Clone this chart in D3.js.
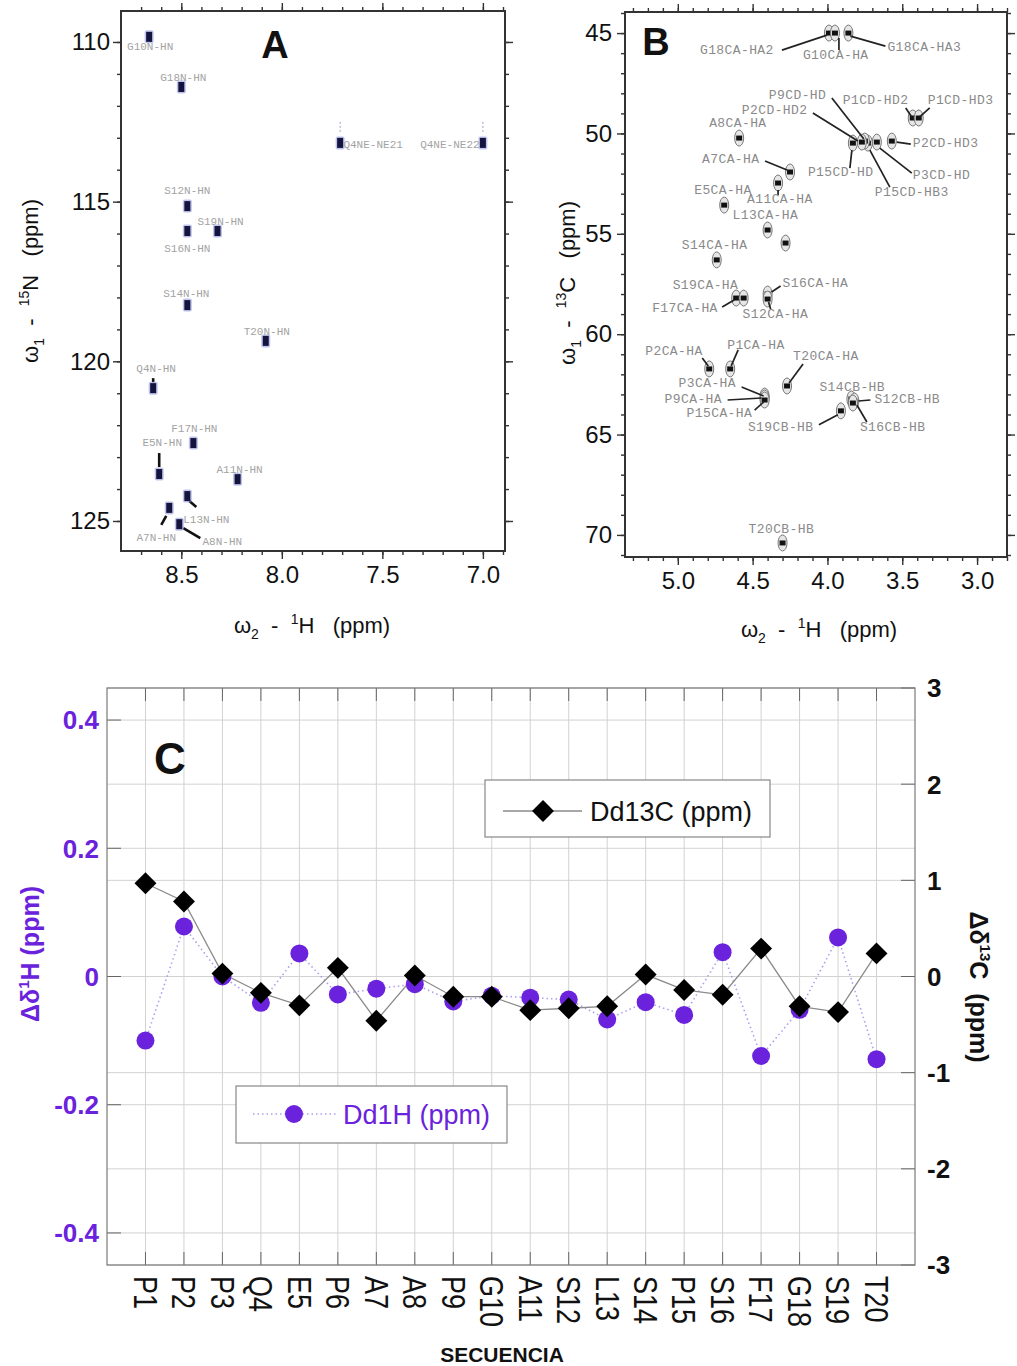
<!DOCTYPE html>
<html>
<head>
<meta charset="utf-8">
<script src="https://cdn.jsdelivr.net/npm/d3@7"></script>
<style>
  body { margin: 0; background: #fff; }
  svg { display: block; }
  text { font-family: "Liberation Sans", Arial, sans-serif; white-space: pre; }
  text.mono { font-family: "Liberation Mono", "DejaVu Sans Mono", monospace; }
</style>
</head>
<body>
<svg id="fig" width="1017" height="1366"></svg>
<script>
// ---- panel A : 1H-15N peaks (ppm) ----
const hnNames = ["G10N-HN","G18N-HN","Q4NE-NE21","Q4NE-NE22","S12N-HN","S16N-HN","S19N-HN","S14N-HN",
                 "T20N-HN","Q4N-HN","F17N-HN","E5N-HN","A11N-HN","L13N-HN","A7N-HN","A8N-HN"];
const hnH = [8.66, 8.50, 7.71, 7.00, 8.47, 8.47, 8.32, 8.47, 8.08, 8.64, 8.44, 8.61, 8.22, 8.47, 8.56, 8.51];
const hnN = [109.84, 111.41, 113.16, 113.16, 115.14, 115.92, 115.92, 118.24, 119.36, 120.84, 122.56, 123.53,
             123.69, 124.22, 124.59, 125.10];

// ---- panel B : 1H-13C peaks (ppm) ----
const chNames = ["G18CA-HA2","G10CA-HA","G18CA-HA3","P1CD-HD2","P1CD-HD3","P2CD-HD3","P3CD-HD","P15CD-HB3",
                 "P9CD-HD","P2CD-HD2","P15CD-HD","A8CA-HA","A7CA-HA","A11CA-HA","E5CA-HA","L13CA-HA","",
                 "S14CA-HA","F17CA-HA","S19CA-HA","S16CA-HA","S12CA-HA","P2CA-HA","P1CA-HA","T20CA-HA",
                 "P3CA-HA","P9CA-HA","P15CA-HA","S14CB-HB","S12CB-HB","S16CB-HB","S19CB-HB","T20CB-HB"];
const chH = [3.99, 3.95, 3.86, 3.43, 3.39, 3.57, 3.67, 3.73, 3.75, 3.77, 3.83, 4.59, 4.25, 4.33, 4.69, 4.40, 4.28,
             4.74, 4.61, 4.56, 4.40, 4.40, 4.79, 4.65, 4.27, 4.42, 4.42, 4.42, 3.84, 3.82, 3.83, 3.91, 4.30];
const chC = [45.0, 45.0, 45.0, 49.23, 49.23, 50.38, 50.43, 50.48, 50.38, 50.43, 50.48, 50.23, 51.92, 52.47, 53.57,
             54.81, 55.46, 56.3, 58.2, 58.2, 58.0, 58.25, 61.73, 61.73, 62.58, 63.08, 63.18, 63.28, 63.23, 63.33,
             63.43, 63.82, 70.4];

// ---- panel C : chemical shift differences ----
const residues = ["P1","P2","P3","Q4","E5","P6","A7","A8","P9","G10","A11","S12","L13","S14","P15","S16","F17","G18","S19","T20"];
const dd13C = [0.97, 0.78, 0.03, -0.17, -0.30, 0.09, -0.46, 0.01, -0.21, -0.21, -0.35, -0.33, -0.31, 0.02, -0.14,
               -0.19, 0.29, -0.31, -0.37, 0.24];
const dd1H = [-0.100, 0.078, 0.000, -0.041, 0.036, -0.028, -0.019, -0.012, -0.039, -0.030, -0.033, -0.036, -0.067,
              -0.040, -0.060, 0.038, -0.124, -0.052, 0.061, -0.129];
const hTicks = [-0.4, -0.2, 0, 0.2, 0.4];
const cTicks = [-3, -2, -1, 0, 1, 2, 3];

// label placement, pixel offsets from the peak: [dx, dy, leader x1, y1, x2, y2]
const hnLabelPos = {
  "G10N-HN": [1, 13], "G18N-HN": [2, -6], "Q4NE-NE21": [33, 5, 0, -11, 0, -21], "Q4NE-NE22": [-33, 5, 0, -11, 0, -21],
  "S12N-HN": [0, -12], "S16N-HN": [0, 21], "S19N-HN": [3, -6], "S14N-HN": [-1, -8], "T20N-HN": [1, -6],
  "Q4N-HN": [3, -16, 0, -6, 0, -10], "F17N-HN": [1, -11], "E5N-HN": [3, -28, 0, -7, 0, -21], "A11N-HN": [2, -6],
  "L13N-HN": [19, 27, 2, 5, 9, 11], "A7N-HN": [-13, 33, -3, 8, -8, 17], "A8N-HN": [43, 21, 4, 4, 21, 14]
};
const chLabelPos = {
  "G18CA-HA2": [-129, 21, -2, 2, -47, 17], "G10CA-HA": [-32, 26, 4, 5, 4, 17], "G18CA-HA3": [39, 18, 2, 3, 37, 13],
  "P1CD-HD2": [-70, -14, -1, -1, -7, -10], "P1CD-HD3": [9, -14, 1, -1, 11, -10], "P2CD-HD3": [21, 6, 5, 1, 19, 3],
  "P3CD-HD": [36, 37, 3, 6, 35, 31], "P15CD-HB3": [7, 53, 2, 7, 22, 44], "P9CD-HD": [-96, -42, -1, -2, -33, -43],
  "P2CD-HD2": [-120, -28, -4, -1, -49, -29], "P15CD-HD": [-45, 33, -1, 7, -3, 25], "A8CA-HA": [-30, -11],
  "A7CA-HA": [-88, -9, -3, -2, -25, -11], "A11CA-HA": [-31, 20, 0, 7, 0, 12], "E5CA-HA": [-30, -11],
  "L13CA-HA": [-35, -11], "S14CA-HA": [-35, -11], "F17CA-HA": [-84, 14, -2, 2, -14, 9], "S19CA-HA": [-71, -9],
  "S16CA-HA": [15, -7, 4, -2, 13, -8], "S12CA-HA": [-25, 19, 1, 3, 3, 10], "P2CA-HA": [-64, -14, -1, -3, -7, -11],
  "P1CA-HA": [-3, -20, 1, -3, 8, -19], "T20CA-HA": [6, -26, 2, -3, 16, -22], "P3CA-HA": [-86, -9, -1, 0, -23, -9],
  "P9CA-HA": [-100, 5, -3, 0, -37, 2], "P15CA-HA": [-78, 17, -1, 2, -10, 10], "S14CB-HB": [-32, -8],
  "S12CB-HB": [20, 2, 4, 0, 16, -1], "S16CB-HB": [7, 28, 4, 2, 14, 19], "S19CB-HB": [-93, 20, -3, 4, -22, 14],
  "T20CB-HB": [-34, -10]
};

const svg = d3.select("#fig");
svg.append("rect").attr("width", 1017).attr("height", 1366).attr("fill", "#fff");

function frame(x, y, xMajor, xMinor, yMajor, yMinor, xFmt, yPad) {
  const g = svg.append("g");
  const [xl, xr] = x.range(), [yt, yb] = y.range();
  const add = (axis, tr, keep) => {
    const a = g.append("g").attr("transform", tr).call(axis);
    a.select(".domain").remove();
    a.selectAll("line").attr("stroke", "#333").attr("stroke-width", 1.4);
    if (keep) a.selectAll("text").attr("font-size", 24).attr("fill", "#111")
      .style("font-family", "'Liberation Sans', Arial, sans-serif");
    else a.selectAll("text").remove();
  };
  add(d3.axisBottom(x).tickValues(xMinor).tickSize(4), `translate(0,${yb})`, false);
  add(d3.axisBottom(x).tickValues(xMajor).tickSize(8).tickPadding(7).tickFormat(xFmt), `translate(0,${yb})`, true);
  add(d3.axisTop(x).tickValues(xMinor).tickSize(4), `translate(0,${yt})`, false);
  add(d3.axisTop(x).tickValues(xMajor).tickSize(8), `translate(0,${yt})`, false);
  add(d3.axisLeft(y).tickValues(yMinor).tickSize(4), `translate(${xl},0)`, false);
  add(d3.axisLeft(y).tickValues(yMajor).tickSize(8).tickPadding(yPad).tickFormat(d3.format("d")), `translate(${xl},0)`, true);
  add(d3.axisRight(y).tickValues(yMinor).tickSize(4), `translate(${xr},0)`, false);
  add(d3.axisRight(y).tickValues(yMajor).tickSize(8), `translate(${xr},0)`, false);
  g.append("rect").attr("x", xl).attr("y", yt).attr("width", xr - xl).attr("height", yb - yt)
    .attr("fill", "none").attr("stroke", "#333").attr("stroke-width", 2);
  return g;
}

function omegaTitle(x, y, rot, sub, sup, nuc) {
  const t = svg.append("text").attr("transform", `translate(${x},${y}) rotate(${rot})`)
    .attr("text-anchor", "middle").attr("font-size", 22).attr("fill", "#111");
  t.append("tspan").text("ω");
  t.append("tspan").attr("font-size", 14).attr("dy", 6).text(sub);
  t.append("tspan").attr("dy", -6).text("  -  ");
  t.append("tspan").attr("font-size", 14).attr("dy", -9).text(sup);
  t.append("tspan").attr("dy", 9).text(nuc + "   (ppm)");
}

// ================= panel A =================
const xA = d3.scaleLinear().domain([8.8, 6.89]).range([121, 505]);
const yA = d3.scaleLinear().domain([109.03, 125.94]).range([11, 551]);
frame(xA, yA, [8.5, 8.0, 7.5, 7.0], d3.range(69, 88).map(v => v / 10),
      [110, 115, 120, 125], d3.range(110, 126), d3.format(".1f"), 3);

const gA = svg.append("g");
hnNames.forEach((name, i) => {
  const px = xA(hnH[i]), py = yA(hnN[i]);
  const lp = hnLabelPos[name];
  if (lp.length > 2) {
    const thin = name.startsWith("Q4NE");
    gA.append("line").attr("x1", px + lp[2]).attr("y1", py + lp[3]).attr("x2", px + lp[4]).attr("y2", py + lp[5])
      .attr("stroke", thin ? "#9aa0c8" : "#111").attr("stroke-width", thin ? 1 : 2.6)
      .attr("stroke-dasharray", thin ? "2,2" : null);
  }
  gA.append("rect").attr("x", px - 4.5).attr("y", py - 6.5).attr("width", 9).attr("height", 13)
    .attr("rx", 2).attr("fill", "#8d93dc").attr("opacity", 0.55);
  gA.append("rect").attr("x", px - 3).attr("y", py - 5).attr("width", 6).attr("height", 10)
    .attr("fill", "#14143e");
  gA.append("text").attr("class", "mono").attr("x", px + lp[0]).attr("y", py + lp[1]).attr("text-anchor", "middle")
    .attr("font-size", 11).attr("fill", "#a3a3a3").text(name);
});
svg.append("text").attr("x", 275).attr("y", 58).attr("text-anchor", "middle").attr("font-size", 38)
  .attr("font-weight", "bold").attr("fill", "#111").text("A");
omegaTitle(38, 281, -90, "1", "15", "N");
omegaTitle(312, 633, 0, "2", "1", "H");

// ================= panel B =================
const xB = d3.scaleLinear().domain([5.353, 2.8]).range([625, 1007]);
const yB = d3.scaleLinear().domain([43.95, 71.1]).range([12, 557]);
frame(xB, yB, [5.0, 4.5, 4.0, 3.5, 3.0], d3.range(28, 54).map(v => v / 10),
      [45, 50, 55, 60, 65, 70], d3.range(44, 72), d3.format(".1f"), 5);

const gB = svg.append("g");
const gBl = svg.append("g");
chNames.forEach((name, i) => {
  const px = xB(chH[i]), py = yB(chC[i]);
  gB.append("ellipse").attr("cx", px).attr("cy", py).attr("rx", 4.5).attr("ry", 8)
    .attr("fill", "#e6e6e6").attr("stroke", "#777").attr("stroke-width", 1);
  gB.append("rect").attr("x", px - 3).attr("y", py - 2.5).attr("width", 6).attr("height", 5).attr("fill", "#111");
  const lp = chLabelPos[name];
  if (!lp) return;
  if (lp.length > 2) {
    gBl.append("line").attr("x1", px + lp[2]).attr("y1", py + lp[3]).attr("x2", px + lp[4]).attr("y2", py + lp[5])
      .attr("stroke", "#222").attr("stroke-width", 1.7);
  }
  gBl.append("text").attr("class", "mono").attr("x", px + lp[0]).attr("y", py + lp[1])
    .attr("font-size", 13).attr("letter-spacing", 0.4).attr("fill", "#8a8a8a").text(name);
});
svg.append("text").attr("x", 656).attr("y", 55).attr("text-anchor", "middle").attr("font-size", 38)
  .attr("font-weight", "bold").attr("fill", "#111").text("B");
omegaTitle(575, 283, -90, "1", "13", "C");
omegaTitle(819, 637, 0, "2", "1", "H");

// ================= panel C =================
const purple = "#6a22dc";
const xC = d3.scaleLinear().domain([0, 21]).range([107, 915]);
const yH = d3.scaleLinear().domain([-0.45, 0.45]).range([1265, 688]);
const yC = d3.scaleLinear().domain([-3, 3]).range([1265, 688]);
const gC = svg.append("g");
const idx = residues.map((r, i) => i + 1);

gC.selectAll(".vg").data(idx).join("line").attr("x1", d => xC(d)).attr("x2", d => xC(d))
  .attr("y1", 688).attr("y2", 1265).attr("stroke", "#d2d2d2").attr("stroke-width", 1);
gC.selectAll(".hg1").data(hTicks).join("line").attr("x1", 107).attr("x2", 915)
  .attr("y1", d => yH(d)).attr("y2", d => yH(d)).attr("stroke", "#d2d2d2");
gC.selectAll(".hg2").data(cTicks).join("line").attr("x1", 107).attr("x2", 915)
  .attr("y1", d => yC(d)).attr("y2", d => yC(d)).attr("stroke", "#d2d2d2");

// inward ticks
const tk = "#666";
gC.selectAll(".tb").data(idx).join("line").attr("x1", d => xC(d)).attr("x2", d => xC(d))
  .attr("y1", 1265).attr("y2", 1252).attr("stroke", tk);
gC.selectAll(".tt").data(idx).join("line").attr("x1", d => xC(d)).attr("x2", d => xC(d))
  .attr("y1", 688).attr("y2", 701).attr("stroke", tk);
gC.selectAll(".tl").data(hTicks).join("line").attr("x1", 107).attr("x2", 121)
  .attr("y1", d => yH(d)).attr("y2", d => yH(d)).attr("stroke", tk);
gC.selectAll(".tr").data(cTicks).join("line").attr("x1", 915).attr("x2", 901)
  .attr("y1", d => yC(d)).attr("y2", d => yC(d)).attr("stroke", tk);
gC.append("rect").attr("x", 107).attr("y", 688).attr("width", 808).attr("height", 577)
  .attr("fill", "none").attr("stroke", "#7a7a7a").attr("stroke-width", 1.2);

// tick labels (plain hyphen for negatives, as in the original)
const fmtH = d => d === 0 ? "0" : d3.format(".1f")(d).replace("−", "-");
gC.selectAll(".lh").data(hTicks).join("text").attr("x", 99).attr("y", d => yH(d)).attr("dy", "0.36em")
  .attr("text-anchor", "end").attr("font-size", 26).attr("font-weight", "bold").attr("fill", purple)
  .text(fmtH);
gC.selectAll(".lc").data(cTicks).join("text").attr("x", 927).attr("y", d => yC(d)).attr("dy", "0.36em")
  .attr("font-size", 26).attr("font-weight", "bold").attr("fill", "#111").text(d => String(d));
gC.selectAll(".lx").data(residues).join("text")
  .attr("transform", (d, i) => `translate(${xC(i + 1)},1276) rotate(90) scale(1,1.2)`)
  .attr("dy", "0.36em").attr("font-size", 27).attr("fill", "#111").text(d => d);
svg.append("text").attr("x", 502).attr("y", 1362).attr("text-anchor", "middle").attr("font-size", 21)
  .attr("font-weight", "bold").attr("fill", "#111").text("SECUENCIA");

// axis titles
const tH = svg.append("text").attr("transform", "translate(39,954) rotate(-90)").attr("text-anchor", "middle")
  .attr("font-size", 25).attr("font-weight", "bold").attr("fill", purple);
tH.append("tspan").text("Δδ");
tH.append("tspan").attr("font-size", 15).attr("dy", -10).text("1");
tH.append("tspan").attr("dy", 10).text("H (ppm)");
const tC = svg.append("text").attr("transform", "translate(970,987) rotate(90)").attr("text-anchor", "middle")
  .attr("font-size", 25).attr("font-weight", "bold").attr("fill", "#111");
tC.append("tspan").text("Δδ");
tC.append("tspan").attr("font-size", 15).attr("dy", -10).text("13");
tC.append("tspan").attr("dy", 10).text("C  (ppm)");

// series
gC.append("path").datum(dd1H).attr("fill", "none").attr("stroke", "#ad9ff0").attr("stroke-width", 1.6)
  .attr("stroke-dasharray", "1.5,3")
  .attr("d", d3.line().x((d, i) => xC(i + 1)).y(d => yH(d)));
gC.append("path").datum(dd13C).attr("fill", "none").attr("stroke", "#8a8a8a").attr("stroke-width", 1.3)
  .attr("d", d3.line().x((d, i) => xC(i + 1)).y(d => yC(d)));
gC.selectAll(".ph").data(dd1H).join("circle").attr("cx", (d, i) => xC(i + 1)).attr("cy", d => yH(d))
  .attr("r", 9).attr("fill", purple);
const diamond = d3.symbol(d3.symbolSquare, 240);
gC.selectAll(".pc").data(dd13C).join("path")
  .attr("transform", (d, i) => `translate(${xC(i + 1)},${yC(d)}) rotate(45)`).attr("d", diamond).attr("fill", "#000");

// legends
const l1 = svg.append("g");
l1.append("rect").attr("x", 485).attr("y", 780).attr("width", 285).attr("height", 57)
  .attr("fill", "#fff").attr("stroke", "#888").attr("stroke-width", 1.2);
l1.append("line").attr("x1", 503).attr("x2", 582).attr("y1", 811).attr("y2", 811).attr("stroke", "#8a8a8a").attr("stroke-width", 1.3);
l1.append("path").attr("transform", "translate(543,811) rotate(45)").attr("d", diamond).attr("fill", "#000");
l1.append("text").attr("x", 590).attr("y", 821).attr("font-size", 27).attr("fill", "#111").text("Dd13C (ppm)");

const l2 = svg.append("g");
l2.append("rect").attr("x", 236).attr("y", 1086).attr("width", 271).attr("height", 57)
  .attr("fill", "#fff").attr("stroke", "#888").attr("stroke-width", 1.2);
l2.append("line").attr("x1", 253).attr("x2", 336).attr("y1", 1114).attr("y2", 1114).attr("stroke", "#ad9ff0")
  .attr("stroke-width", 1.6).attr("stroke-dasharray", "1.5,3");
l2.append("circle").attr("cx", 294).attr("cy", 1114).attr("r", 9).attr("fill", purple);
l2.append("text").attr("x", 343).attr("y", 1124).attr("font-size", 27).attr("fill", purple).text("Dd1H (ppm)");

svg.append("text").attr("x", 170).attr("y", 774).attr("text-anchor", "middle").attr("font-size", 44)
  .attr("font-weight", "bold").attr("fill", "#111").text("C");
</script>
</body>
</html>
